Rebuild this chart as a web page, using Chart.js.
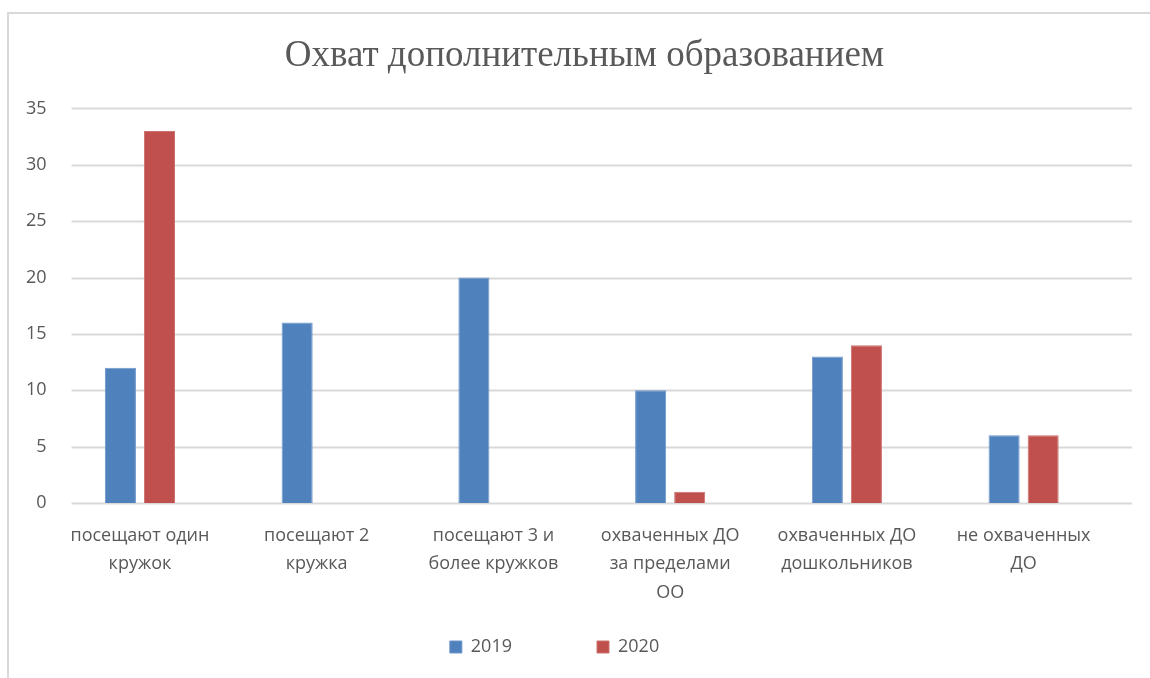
<!DOCTYPE html>
<html>
<head>
<meta charset="utf-8">
<script src="https://cdn.jsdelivr.net/npm/chart.js@4"></script>
<style>
  html, body { margin: 0; padding: 0; background: #fff; }
  #wrap { position: relative; width: 1150px; height: 678px; overflow: hidden; }
  #frame { position: absolute; left: 7px; top: 12px; width: 1300px; height: 900px; border: 2px solid #d9d9d9; box-sizing: border-box; }
  #chart { position: absolute; left: 0; top: 0; }
</style>
</head>
<body>
<div id="wrap">
  <div id="frame"></div>
  <canvas id="chart" width="1150" height="678"></canvas>
</div>
<script>
// Data
const categories = [
  ['посещают один', 'кружок'],
  ['посещают 2', 'кружка'],
  ['посещают 3 и', 'более кружков'],
  ['охваченных ДО', 'за пределами', 'ОО'],
  ['охваченных ДО', 'дошкольников'],
  ['не охваченных', 'ДО']
];
const seriesNames = ['2019', '2020'];
const values2019 = [12, 16, 20, 10, 13, 6];
const values2020 = [33, 0, 0, 1, 14, 6];
const yTicks = [0, 5, 10, 15, 20, 25, 30, 35];

const textColor = '#595959';
const blueColor = '#4F81BD',
  redColor = '#C0504D';

// gridlines in the original sit a bit to the right of the category band
const gridShift = 20;
const legendPad = 85;
const legendRowY = 647;

const shiftedGrid = {
  id: 'shiftedGrid',
  beforeDatasetsDraw(chart) {
    const { ctx, chartArea, scales } = chart;
    const y = scales.y;
    ctx.save();
    ctx.strokeStyle = '#d9d9d9';
    ctx.lineWidth = 2;
    y.ticks.forEach(t => {
      const py = Math.round(y.getPixelForValue(t.value)) + 0.5;
      ctx.beginPath();
      ctx.moveTo(chartArea.left + gridShift, py);
      ctx.lineTo(chartArea.right + gridShift, py);
      ctx.stroke();
    });
    ctx.restore();
  }
};

// nudge title and legend boxes to where they sit in the original
const nudgeBoxes = {
  id: 'nudgeBoxes',
  afterLayout(chart) {
    const t = chart.titleBlock;
    t.left += 18; t.right += 18;
    const lg = chart.legend;
    lg.left -= 12; lg.right -= 12;
    lg.top = legendRowY - legendPad - 9;
    lg.bottom = chart.height;
  }
};

new Chart(document.getElementById('chart'), {
  type: 'bar',
  data: {
    labels: categories,
    datasets: [
      {
        label: seriesNames[0],
        data: values2019,
        backgroundColor: blueColor,
        borderColor: '#6e96c9',
        borderWidth: 1,
        categoryPercentage: 0.442,
        barPercentage: 0.795
      },
      {
        label: seriesNames[1],
        data: values2020,
        backgroundColor: redColor,
        borderColor: '#cc726f',
        borderWidth: 1,
        categoryPercentage: 0.442,
        barPercentage: 0.795
      }
    ]
  },
  options: {
    responsive: false,
    animation: false,
    devicePixelRatio: 1,
    layout: {
      padding: { left: 21, right: 38, top: 0, bottom: 12 }
    },
    plugins: {
      title: {
        display: true,
        text: 'Охват дополнительным образованием',
        color: textColor,
        font: { family: 'Liberation Serif', size: 37, weight: 'normal' },
        padding: { top: 34, bottom: 30 }
      },
      legend: {
        display: true,
        position: 'bottom',
        maxHeight: 40.6,
        labels: {
          color: textColor,
          font: { family: 'Open Sans', size: 18 },
          boxWidth: 12,
          boxHeight: 12,
          padding: legendPad
        }
      },
      tooltip: { enabled: false }
    },
    scales: {
      x: {
        grid: { display: false, drawTicks: false },
        border: { display: false },
        ticks: {
          color: textColor,
          font: { family: 'Open Sans', size: 18, lineHeight: 1.6 },
          padding: 18,
          maxRotation: 0,
          autoSkip: false
        }
      },
      y: {
        min: yTicks[0],
        max: yTicks[yTicks.length - 1],
        grid: { display: false, drawTicks: false },
        border: { display: false },
        ticks: {
          stepSize: yTicks[1] - yTicks[0],
          color: textColor,
          font: { family: 'Open Sans', size: 18 },
          padding: 5
        }
      }
    }
  },
  plugins: [shiftedGrid, nudgeBoxes]
});
</script>
</body>
</html>
